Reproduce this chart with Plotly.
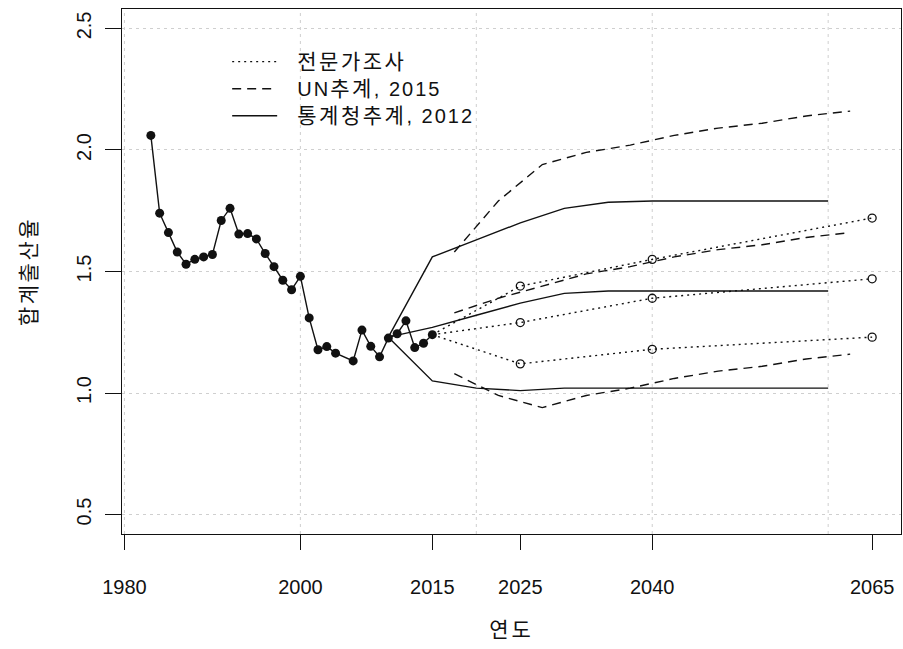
import re
import plotly.graph_objects as go

# Observed total fertility rate (2005 not recorded in this series)
hist_years = [1983, 1984, 1985, 1986, 1987, 1988, 1989, 1990, 1991, 1992,
              1993, 1994, 1995, 1996, 1997, 1998, 1999, 2000, 2001, 2002,
              2003, 2004, 2006, 2007, 2008, 2009, 2010, 2011, 2012, 2013,
              2014, 2015]
hist_tfr = [2.06, 1.74, 1.66, 1.58, 1.53, 1.55, 1.56, 1.57, 1.71, 1.76,
            1.654, 1.656, 1.634, 1.574, 1.52, 1.464, 1.425, 1.48, 1.309, 1.178,
            1.191, 1.164, 1.132, 1.259, 1.192, 1.149, 1.226, 1.244, 1.297, 1.187,
            1.205, 1.24]

# Statistics Korea projection (2012): high / medium / low
kostat_years = [2010, 2015, 2020, 2025, 2030, 2035, 2040, 2045, 2050, 2055, 2060]
kostat_high = [1.23, 1.56, 1.63, 1.70, 1.76, 1.785, 1.79, 1.79, 1.79, 1.79, 1.79]
kostat_mid = [1.23, 1.27, 1.32, 1.37, 1.41, 1.42, 1.42, 1.42, 1.42, 1.42, 1.42]
kostat_low = [1.23, 1.05, 1.02, 1.01, 1.02, 1.02, 1.02, 1.02, 1.02, 1.02, 1.02]

# UN World Population Prospects 2015 (five-year period midpoints)
un_years = [2017.5, 2022.5, 2027.5, 2032.5, 2037.5, 2042.5, 2047.5, 2052.5, 2057.5, 2062.5]
un_high = [1.58, 1.79, 1.94, 1.99, 2.02, 2.06, 2.09, 2.11, 2.14, 2.16]
un_mid = [1.33, 1.39, 1.44, 1.49, 1.52, 1.56, 1.59, 1.61, 1.64, 1.66]
un_low = [1.08, 0.99, 0.94, 0.99, 1.02, 1.06, 1.09, 1.11, 1.14, 1.16]

# Expert survey
survey_years = [2015, 2025, 2040, 2065]
survey_high = [1.24, 1.44, 1.55, 1.72]
survey_mid = [1.24, 1.29, 1.39, 1.47]
survey_low = [1.24, 1.12, 1.18, 1.23]

x_tick_years = [1980, 2000, 2015, 2025, 2040, 2065]
grid_years = [1980, 2000, 2020, 2040, 2060]
y_ticks = [0.5, 1.0, 1.5, 2.0, 2.5]
y_tick_text = ["0.5", "1.0", "1.5", "2.0", "2.5"]

legend_names = ["전문가조사", "UN추계, 2015", "통계청추계, 2012"]
x_title = "연도"
y_title = "합계출산율"

FONT = "Liberation Sans, Arial, Noto Sans CJK KR, sans-serif"
INK = "#111111"
GRID = "#cfcfcf"
LW = 1.4
DOT = "2px,4px"
DASH = "9px,6px"

HANGUL = r"[\uac00-\ud7a3]"


def styled(text, hangul_css, other_css, lead=""):
    """Wrap Hangul and non-Hangul runs in spans with their own CSS."""
    runs = re.findall(HANGUL + r"+|[^\uac00-\ud7a3]+", lead + text)
    out = []
    for run in runs:
        css = hangul_css if re.match(HANGUL, run) else other_css
        out.append(f'<span style="{css}">{run}</span>' if css else run)
    return "".join(out)


KO_CSS = "font-size:21px;letter-spacing:2.5px"
LEGEND_LATIN = "font-size:20px;letter-spacing:2px"

fig = go.Figure()

# expert survey (dotted, open circles at survey years)
for i, ys in enumerate([survey_high, survey_mid, survey_low]):
    fig.add_trace(go.Scatter(
        x=survey_years, y=ys, mode="lines",
        line=dict(color=INK, width=LW, dash=DOT),
        name=styled(legend_names[0], KO_CSS, LEGEND_LATIN, "\u00a0\u00a0"),
        legendgroup="survey", showlegend=(i == 0), hoverinfo="skip"))
    fig.add_trace(go.Scatter(
        x=survey_years[1:], y=ys[1:], mode="markers",
        marker=dict(symbol="circle-open", size=8, color=INK, line=dict(width=1.3)),
        legendgroup="survey", showlegend=False, hoverinfo="skip"))

# UN projection (dashed)
for i, ys in enumerate([un_high, un_mid, un_low]):
    fig.add_trace(go.Scatter(
        x=un_years, y=ys, mode="lines",
        line=dict(color=INK, width=LW, dash=DASH),
        name=styled(legend_names[1], KO_CSS, LEGEND_LATIN, "\u00a0\u00a0"),
        legendgroup="un", showlegend=(i == 0), hoverinfo="skip"))

# Statistics Korea projection (solid)
for i, ys in enumerate([kostat_high, kostat_mid, kostat_low]):
    fig.add_trace(go.Scatter(
        x=kostat_years, y=ys, mode="lines",
        line=dict(color=INK, width=LW),
        name=styled(legend_names[2], KO_CSS, LEGEND_LATIN, "\u00a0\u00a0"),
        legendgroup="kostat", showlegend=(i == 0), hoverinfo="skip"))

# observed series
fig.add_trace(go.Scatter(
    x=hist_years, y=hist_tfr, mode="lines+markers",
    line=dict(color=INK, width=LW),
    marker=dict(symbol="circle", size=9, color=INK),
    showlegend=False, hoverinfo="skip"))

# vertical dotted grid
for g in grid_years:
    fig.add_shape(type="line", xref="x", yref="paper", x0=g, x1=g, y0=0, y1=1,
                  line=dict(color=GRID, width=1, dash="3px,4px"), layer="below")

fig.update_layout(
    width=903, height=649,
    margin=dict(l=122, r=2, t=9, b=115, autoexpand=False),
    paper_bgcolor="white", plot_bgcolor="white",
    font=dict(family=FONT, size=20, color=INK),
    legend=dict(x=0.135, y=0.935, xanchor="left", yanchor="top",
                bgcolor="rgba(0,0,0,0)", borderwidth=0,
                font=dict(size=18.5), itemwidth=45, tracegroupgap=0),
)

fig.update_xaxes(
    range=[1979.72, 2068.28], tickmode="array", tickvals=x_tick_years,
    ticks="outside", ticklen=15, tickwidth=1, tickcolor=INK,
    showline=True, mirror=True, linecolor=INK, linewidth=1,
    showgrid=False, zeroline=False,
    tickfont=dict(size=20), ticklabelstandoff=20,
    title=dict(text=styled(x_title, "letter-spacing:3px", ""), font=dict(size=21), standoff=25),
)
fig.update_yaxes(
    range=[0.42, 2.58], tickmode="array", tickvals=y_ticks, ticktext=y_tick_text,
    ticks="outside", ticklen=16, tickwidth=1, tickcolor=INK, tickangle=-90,
    showline=True, mirror=True, linecolor=INK, linewidth=1,
    showgrid=True, gridcolor=GRID, griddash="3px,4px", gridwidth=1,
    zeroline=False, tickfont=dict(size=20), ticklabelstandoff=6,
    title=dict(text=styled(y_title, "letter-spacing:2.5px", ""), font=dict(size=21), standoff=30),
)

fig.write_html("out.html")
